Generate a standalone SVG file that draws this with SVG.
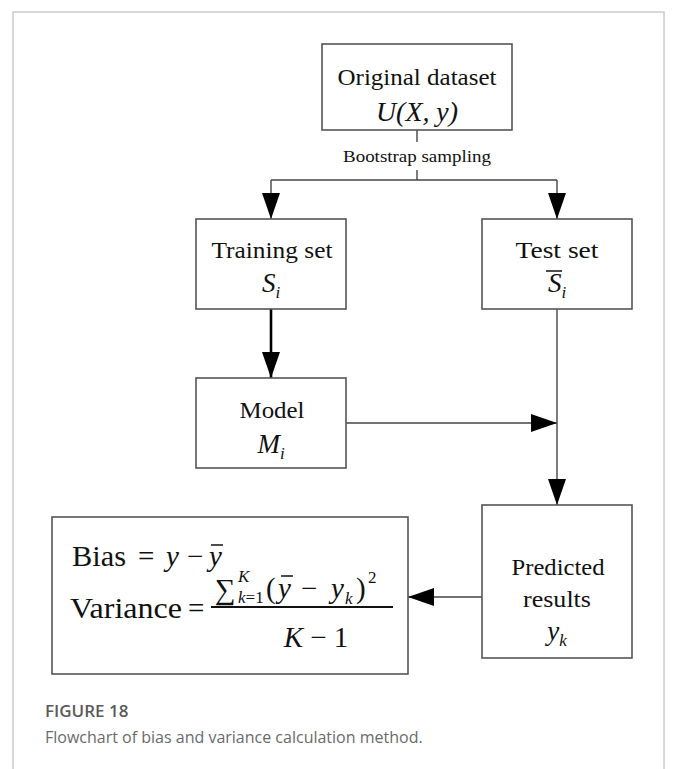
<svg xmlns="http://www.w3.org/2000/svg" width="677" height="769" viewBox="0 0 677 769">
  <style>
    .box { fill: #ffffff; stroke: #555555; stroke-width: 1.6; }
    .lbl { font-family: "Liberation Serif", "Times New Roman", serif; font-size: 23px; fill: #111111; text-anchor: middle; }
    .math { font-family: "Liberation Serif", "Times New Roman", serif; font-style: italic; font-size: 27px; fill: #111111; text-anchor: middle; }
    .eq { font-family: "Liberation Serif", "Times New Roman", serif; font-size: 29px; fill: #111111; }
    .it { font-style: italic; }
    .sm { font-size: 17px; }
    .edge { stroke: #444444; stroke-width: 1.4; fill: none; }
    .bar { stroke: #111111; stroke-width: 1.5; }
    .cap1 { font-family: "Open Sans", "Liberation Sans", sans-serif; font-size: 17px; font-weight: 600; fill: #5a5a5a; }
    .cap2 { font-family: "Open Sans", "Liberation Sans", sans-serif; font-size: 16px; fill: #6a6a6a; }
  </style>
  <defs>
    <marker id="arrowBig" viewBox="0 0 10 10" refX="10" refY="5" markerWidth="26" markerHeight="18" markerUnits="userSpaceOnUse" orient="auto" preserveAspectRatio="none">
      <path d="M0,0 L10,5 L0,10 Z" fill="#000000"/>
    </marker>
  </defs>

  <!-- figure frame -->
  <rect x="13" y="12" width="651" height="780" fill="#ffffff" stroke="#cccccc" stroke-width="1.5"/>

  <!-- connectors -->
  <g id="connectors">
    <path class="edge" d="M417,130 V142"/>
    <path class="edge" d="M417,170 V180"/>
    <path class="edge" d="M271,180 H557"/>
    <path class="edge" d="M271,180 V219" marker-end="url(#arrowBig)"/>
    <path class="edge" d="M557,180 V219" marker-end="url(#arrowBig)"/>
    <path d="M271,309 V378" stroke="#000000" stroke-width="2.6" fill="none" marker-end="url(#arrowBig)"/>
    <path class="edge" d="M346,423 H557" marker-end="url(#arrowBig)"/>
    <path class="edge" d="M557,309 V505" marker-end="url(#arrowBig)"/>
    <path class="edge" d="M482,597 H408" marker-end="url(#arrowBig)"/>
    <text x="417" y="162" font-family="Liberation Serif, Times New Roman, serif" font-size="16" fill="#111111" text-anchor="middle" textLength="148" lengthAdjust="spacingAndGlyphs">Bootstrap sampling</text>
  </g>

  <g id="original">
    <rect class="box" x="322" y="44" width="190" height="86"/>
    <text class="lbl" x="417" y="85" textLength="159" lengthAdjust="spacingAndGlyphs">Original dataset</text>
    <text class="math" x="417" y="121" textLength="82" lengthAdjust="spacingAndGlyphs">U(X, y)</text>
  </g>

  <g id="training">
    <rect class="box" x="196" y="219" width="150" height="90"/>
    <text class="lbl" x="272" y="258" textLength="121" lengthAdjust="spacingAndGlyphs">Training set</text>
    <text class="math" x="271" y="292">S<tspan class="sm" dy="6">i</tspan></text>
  </g>

  <g id="test">
    <rect class="box" x="482" y="219" width="150" height="90"/>
    <text class="lbl" x="557" y="258" textLength="83" lengthAdjust="spacingAndGlyphs">Test set</text>
    <text class="math" x="557" y="292">S<tspan class="sm" dy="6">i</tspan></text>
    <line class="bar" x1="546" y1="271" x2="562" y2="271"/>
  </g>

  <g id="model">
    <rect class="box" x="196" y="378" width="150" height="90"/>
    <text class="lbl" x="272" y="418" textLength="65" lengthAdjust="spacingAndGlyphs">Model</text>
    <text class="math" x="271" y="453">M<tspan class="sm" dy="6">i</tspan></text>
  </g>

  <g id="predicted">
    <rect class="box" x="482" y="505" width="150" height="153"/>
    <text class="lbl" x="558" y="575" textLength="93" lengthAdjust="spacingAndGlyphs">Predicted</text>
    <text class="lbl" x="557" y="607" textLength="68" lengthAdjust="spacingAndGlyphs">results</text>
    <text class="math" x="557" y="640">y<tspan class="sm" dy="6">k</tspan></text>
  </g>

  <g id="formulas">
    <rect class="box" x="52" y="517" width="356" height="157"/>
    <!-- Bias = y − ȳ -->
    <text class="eq" x="72" y="566" textLength="54" lengthAdjust="spacingAndGlyphs">Bias</text>
    <text class="eq" x="138" y="566">=</text>
    <text class="eq it" x="166" y="566">y</text>
    <text class="eq" x="187" y="566">−</text>
    <text class="eq it" x="209" y="566">y</text>
    <line class="bar" x1="211" y1="545" x2="223" y2="545"/>
    <!-- Variance = sum over k of squared deviations, divided by K − 1 -->
    <text class="eq" x="70" y="618" textLength="112" lengthAdjust="spacingAndGlyphs">Variance</text>
    <text class="eq" x="188" y="618">=</text>
    <text class="eq" x="215" y="599" font-size="27">∑</text>
    <text class="eq it sm" x="238" y="582">K</text>
    <text class="eq sm" x="238" y="603"><tspan class="it">k</tspan>=1</text>
    <text class="eq" x="266" y="598">(</text>
    <text class="eq it" x="278" y="598">y</text>
    <line class="bar" x1="281" y1="576" x2="293" y2="576"/>
    <text class="eq" x="301" y="598">−</text>
    <text class="eq it" x="331" y="598">y</text>
    <text class="eq it sm" x="345" y="604">k</text>
    <text class="eq" x="356" y="598">)</text>
    <text class="eq sm" x="368" y="583">2</text>
    <line x1="211" y1="607" x2="393" y2="607" stroke="#111111" stroke-width="1.8"/>
    <text class="eq" x="316" y="647" text-anchor="middle"><tspan class="it">K</tspan> − 1</text>
  </g>

  <!-- caption -->
  <text class="cap1" x="45" y="717">FIGURE 18</text>
  <text class="cap2" x="45" y="743">Flowchart of bias and variance calculation method.</text>
</svg>
